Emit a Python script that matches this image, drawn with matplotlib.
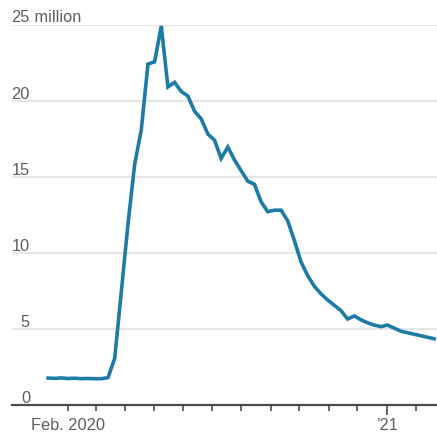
import matplotlib
matplotlib.use('Agg')
import matplotlib.pyplot as plt
import matplotlib.transforms as mtransforms
import pandas as pd

plt.rcParams['font.family'] = ['Liberation Sans', 'DejaVu Sans']

# weekly continuing jobless claims, millions (week ending Saturday)
week_start = '2020-01-11'
claims = [
    1.77, 1.75, 1.78,
    1.74, 1.76, 1.73, 1.74, 1.73,
    1.73, 1.80, 3.06, 7.45,
    11.9, 15.8, 18.1, 22.4,
    22.55, 24.9, 20.9, 21.2, 20.6,
    20.3, 19.3, 18.8, 17.8,
    17.4, 16.2, 16.95, 16.1,
    15.4, 14.7, 14.5, 13.35, 12.7,
    12.8, 12.8, 12.1, 10.8,
    9.4, 8.5, 7.8, 7.3, 6.9,
    6.55, 6.2, 5.65, 5.85,
    5.6, 5.4, 5.25, 5.15,
    5.25, 5.05, 4.85, 4.75, 4.65,
    4.55, 4.45, 4.35,
]
weeks = pd.date_range(week_start, periods=len(claims), freq='W-SAT')

y_ticks = [0, 5, 10, 15, 20, 25]
month_ticks = pd.date_range('2020-02-01', '2021-02-01', freq='MS')
tick_labels = {'2020-02-01': 'Feb. 2020', '2021-01-01': "\u201921"}

LINE_COLOR = '#1d7ba6'
TEXT_COLOR = '#5e5e5e'
FS = 11.8

W, H = 437, 439
fig = plt.figure(figsize=(W / 100, H / 100), dpi=100)
ax = fig.add_axes([12 / W, (H - 406) / H, 1 - 12 / W, (406 - 25.5) / H])

ax.plot(weeks, claims, color=LINE_COLOR, linewidth=2.6, clip_on=False,
        solid_joinstyle='miter', zorder=3)

ax.set_ylim(0, 25)
ax.set_xlim(pd.Timestamp('2019-12-04'), pd.Timestamp('2021-02-23'))

# horizontal gridlines, labels sit on top of them
ax.set_yticks(y_ticks)
ax.yaxis.grid(True, color='#e4e4e4', linewidth=1.3)
ax.tick_params(axis='y', length=0, labelleft=False)
ax.set_axisbelow(True)

for s in ['top', 'right', 'left']:
    ax.spines[s].set_visible(False)
ax.spines['bottom'].set_color('#4a4a4a')
ax.spines['bottom'].set_linewidth(1.6)
ax.spines['bottom'].set_zorder(4)

lab_tr = mtransforms.offset_copy(ax.get_yaxis_transform(), fig=fig,
                                 x=0, y=3, units='dots')
x_num = (30 - 12) / (W - 12)
for v in y_ticks:
    ax.text(x_num, v, str(v), transform=lab_tr, ha='right', va='baseline',
            fontsize=FS, color=TEXT_COLOR)
ax.text(x_num, 25, ' million', transform=lab_tr, ha='left', va='baseline',
        fontsize=FS, color=TEXT_COLOR)

# monthly ticks below the baseline
ax.set_xticks(month_ticks)
ax.set_xticklabels([tick_labels.get(d.strftime('%Y-%m-%d'), '') for d in month_ticks])
ax.tick_params(axis='x', direction='out', length=4, width=1.2, color='#4a4a4a',
               labelsize=FS, labelcolor=TEXT_COLOR, pad=5)
for t, d in zip(ax.xaxis.get_major_ticks(), month_ticks):
    if d == pd.Timestamp('2021-01-01'):
        t.tick1line.set_markersize(7)

fig.savefig('out.png', dpi=100)
